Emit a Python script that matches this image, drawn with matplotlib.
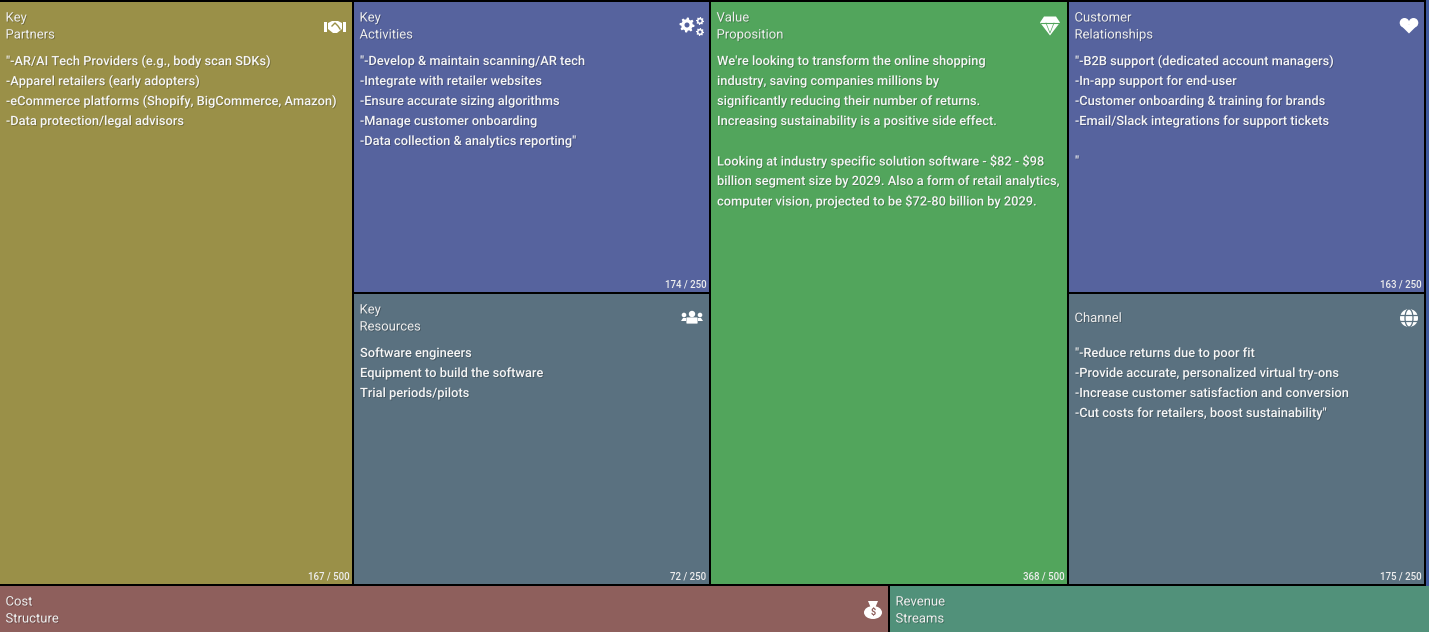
import numpy as np
import matplotlib
matplotlib.use("Agg")
import matplotlib.pyplot as plt
import matplotlib.patheffects as pe
from matplotlib.patches import Rectangle, Circle, Polygon, Ellipse, FancyBboxPatch

titles = ["Key\nPartners", "Key\nActivities", "Key\nResources", "Value\nProposition",
          "Customer\nRelationships", "Channel", "Cost\nStructure", "Revenue\nStreams"]
bodies = [
    ['"-AR/AI Tech Providers (e.g., body scan SDKs)', "-Apparel retailers (early adopters)",
     "-eCommerce platforms (Shopify, BigCommerce, Amazon)", "-Data protection/legal advisors"],
    ['"-Develop & maintain scanning/AR tech', "-Integrate with retailer websites",
     "-Ensure accurate sizing algorithms", "-Manage customer onboarding",
     '-Data collection & analytics reporting"'],
    ["Software engineers", "Equipment to build the software", "Trial periods/pilots"],
    ["We're looking to transform the online shopping", "industry, saving companies millions by",
     "significantly reducing their number of returns.", "Increasing sustainability is a positive side effect.",
     "", "Looking at industry specific solution software - \\$82 - \\$98",
     "billion segment size by 2029. Also a form of retail analytics,",
     "computer vision, projected to be \\$72-80 billion by 2029."],
    ['"-B2B support (dedicated account managers)', "-In-app support for end-user",
     "-Customer onboarding & training for brands", "-Email/Slack integrations for support tickets",
     "", '"'],
    ['"-Reduce returns due to poor fit', "-Provide accurate, personalized virtual try-ons",
     "-Increase customer satisfaction and conversion", '-Cut costs for retailers, boost sustainability"'],
    [], [],
]
counters = ["167 / 500", "174 / 250", "72 / 250", "368 / 500", "163 / 250", "175 / 250", "", ""]

W, H = 1429, 632
# panel boxes in pixels: left, top, right, bottom
boxes = [(0, 2, 352, 584), (354, 2, 709, 292), (354, 294, 709, 584), (711, 2, 1067, 584),
         (1069, 2, 1424, 292), (1069, 294, 1424, 584), (0, 586, 888, 632), (890, 586, 1429, 632)]
colors = ["#9a9048", "#56639e", "#5a7180", "#52a55c", "#56639e", "#5a7180", "#8e5f5c", "#51917a"]

plt.rcParams["font.family"] = ["Roboto", "DejaVu Sans"]
fig = plt.figure(figsize=(W / 100, H / 100), dpi=100, facecolor="black")
ax = fig.add_axes([0, 0, 1, 1])
ax.set_xlim(0, W)
ax.set_ylim(H, 0)
ax.axis("off")

shadow = [pe.SimplePatchShadow(offset=(0.6, -0.6), shadow_rgbFace="black", alpha=0.25), pe.Normal()]
TEXT = "#f6f6f6"

ax.add_patch(Rectangle((1426, 0), 3, H, color="#3f5a9e", lw=0))

for box, col, title, body, count in zip(boxes, colors, titles, bodies, counters):
    l, t, r, b = box
    ax.add_patch(Rectangle((l, t), r - l, b - t, color=col, lw=0))
    lines = title.split("\n")
    first = t + 16 if len(lines) == 2 else t + 24.5
    for i, line in enumerate(lines):
        ax.text(l + 5.5, first + 17 * i, line, color="#eeeeee", fontsize=9.4, va="center", ha="left",
                path_effects=shadow)
    for i, line in enumerate(body):
        ax.text(l + 6, t + 59.5 + 20 * i, line, color=TEXT, fontsize=9.25, va="center", ha="left",
                weight="medium", path_effects=shadow)
    if count:
        ax.text(r - 2.5, b - 8, count, color="#eeeeee", fontsize=7, va="center", ha="right", weight="medium")


def add(p):
    p.set_facecolor("white")
    p.set_edgecolor("none")
    ax.add_patch(p)


def gear_shape(cx, cy, r, hole, bg):
    a = np.linspace(0, 2 * np.pi, 48, endpoint=False)
    rad = np.where((np.arange(48) % 6) < 3, r, r * 0.76)
    add(Polygon(np.column_stack([cx + rad * np.cos(a), cy + rad * np.sin(a)])))
    ax.add_patch(Circle((cx, cy), hole, facecolor=bg, edgecolor="none"))


def handshake(cx, cy):
    bg = "#9a9048"
    add(Rectangle((cx - 11, cy - 5), 3, 10))
    add(Rectangle((cx + 8, cy - 5), 3, 10))
    add(Polygon([(cx - 7, cy - 4), (cx - 3, cy - 6), (cx + 3, cy - 6), (cx + 7, cy - 4),
                 (cx + 7, cy + 2), (cx + 2, cy + 6), (cx - 2, cy + 6), (cx - 7, cy + 2)]))
    ax.plot([cx - 3, cx, cx + 3, cx + 5], [cy - 1, cy - 4, cy - 1, cy + 2], color=bg, lw=1)


def people(cx, cy):
    add(Circle((cx, cy - 4), 3.2))
    add(Circle((cx - 8, cy - 3), 2.3))
    add(Circle((cx + 8, cy - 3), 2.3))
    add(FancyBboxPatch((cx - 5, cy), 10, 5, boxstyle="round,pad=0.6"))
    add(Polygon([(cx - 11, cy + 3), (cx - 9, cy), (cx - 6, cy), (cx - 6, cy + 3)]))
    add(Polygon([(cx + 11, cy + 3), (cx + 9, cy), (cx + 6, cy), (cx + 6, cy + 3)]))


def diamond(cx, cy):
    bg = "#52a55c"
    add(Polygon([(cx - 6, cy - 9.5), (cx + 6, cy - 9.5), (cx + 10, cy - 3.5), (cx, cy + 9.5), (cx - 10, cy - 3.5)]))
    ax.plot([cx - 9, cx + 9], [cy - 3.5, cy - 3.5], color=bg, lw=0.8)
    ax.plot([cx - 4, cx, cx + 4], [cy - 3, cy + 7, cy - 3], color=bg, lw=0.5)


def heart(cx, cy):
    add(Circle((cx - 4.5, cy - 3.2), 4.8))
    add(Circle((cx + 4.5, cy - 3.2), 4.8))
    add(Polygon([(cx - 8.8, cy - 1.2), (cx + 8.8, cy - 1.2), (cx, cy + 7.5)]))


def globe(cx, cy):
    bg = "#5a7180"
    add(Circle((cx, cy), 9))
    ax.add_patch(Ellipse((cx, cy), 8, 18, facecolor="none", edgecolor=bg, lw=0.9))
    ax.plot([cx - 9, cx + 9], [cy - 3, cy - 3], color=bg, lw=0.9)
    ax.plot([cx - 9, cx + 9], [cy + 3, cy + 3], color=bg, lw=0.9)


def moneybag(cx, cy):
    add(Ellipse((cx, cy + 2.5), 18, 13))
    add(Polygon([(cx - 5, cy - 9), (cx + 5, cy - 9), (cx + 2.5, cy - 3), (cx - 2.5, cy - 3)]))
    ax.text(cx, cy + 3, "\\$", color="#8e5f5c", fontsize=6.5, ha="center", va="center", weight="bold")


handshake(335, 27)
gear_shape(687, 25, 7.5, 2.5, "#56639e")
gear_shape(700, 21, 4, 1.5, "#56639e")
gear_shape(700, 32, 4, 1.5, "#56639e")
people(692, 318)
diamond(1050, 26)
heart(1409, 26)
globe(1409, 318)
moneybag(873, 610)

ax.set_xlim(0, W)
ax.set_ylim(H, 0)
fig.savefig("out.png", dpi=100, facecolor="black")
